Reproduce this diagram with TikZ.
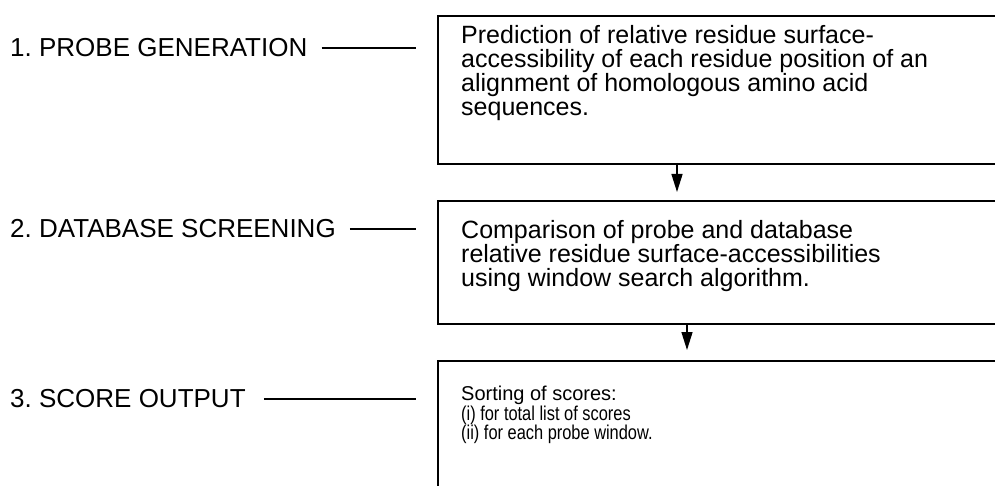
\documentclass[tikz,border=0pt]{standalone}
\usepackage{fontspec}
\usepackage{graphicx}
\setmainfont{Liberation Sans}
\usetikzlibrary{arrows.meta}
\frenchspacing
\begin{document}
\begin{tikzpicture}[x=1pt,y=-1pt,
  box/.style={draw, line width=1.7pt, rectangle, anchor=north west, inner sep=0pt},
  boxtext/.style={anchor=north west, inner sep=0pt, align=left, font=\fontsize{25}{24}\selectfont},
  smalltext/.style={anchor=north west, inner sep=0pt, align=left, font=\fontsize{20}{18}\selectfont},
  lab/.style={anchor=west, inner sep=0pt, font=\fontsize{26}{26}\selectfont},
  lead/.style={line width=1.4pt},
  flow/.style={line width=1.4pt, -{Triangle[length=18pt,width=11pt]}}
]
\useasboundingbox (0,0) rectangle (995,486);
\clip (0,0) rectangle (995,486);
\node[box, minimum width=580pt, minimum height=148pt] (b1) at (437,15) {};
\node[box, minimum width=580pt, minimum height=123pt] (b2) at (437,200) {};
\node[box, minimum width=580pt, minimum height=160pt] (b3) at (437,360) {};
\node[boxtext] (t1) at (461,25) {Prediction of relative residue surface-\\accessibility of each residue position of an\\alignment of homologous amino acid\\sequences.};
\node[boxtext] (t2) at (461,220) {Comparison of probe and database\\relative residue surface-accessibilities\\using window search algorithm.};
\node[smalltext] (t3) at (461,386) {Sorting of scores:\\\scalebox{0.82}[1]{(i) for total list of scores}\\\scalebox{0.82}[1]{(ii) for each probe window.}};
\node[lab] (l1) at (10,48) {1. PROBE GENERATION};
\node[lab] (l2) at (10,229) {2. DATABASE SCREENING};
\node[lab] (l3) at (10,399) {3. SCORE OUTPUT};
\coordinate (e1) at (416,48);
\coordinate (e2) at (416,229);
\coordinate (e3) at (416,399);
\draw[lead] ([xshift=14pt]l1.east) -- (e1);
\draw[lead] ([xshift=14pt]l2.east) -- (e2);
\draw[lead] ([xshift=18pt]l3.east) -- (e3);
\coordinate (a1) at (677,163);
\coordinate (a2) at (687,323);
\draw[flow] (a1) -- (a1 |- 0,192);
\draw[flow] (a2) -- (a2 |- 0,350);
\end{tikzpicture}
\end{document}
